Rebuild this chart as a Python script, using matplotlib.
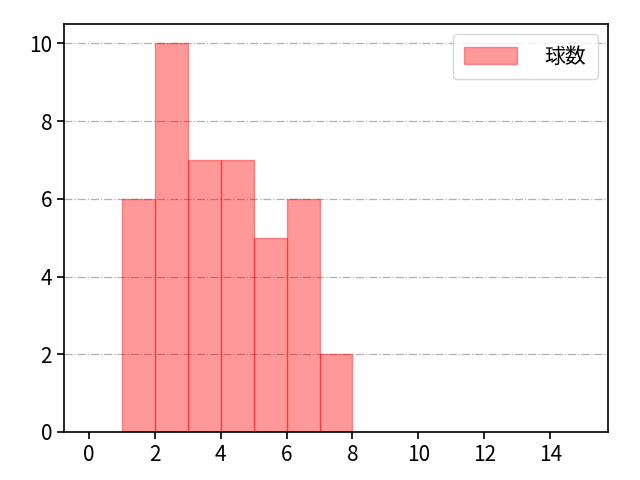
import numpy as np
import matplotlib
matplotlib.use('Agg')
from matplotlib import pyplot as plt

plt.rcParams['font.family'] = ['Noto Sans CJK JP', 'DejaVu Sans']

# bin edges (left side) and counts
bin_left = [1, 2, 3, 4, 5, 6, 7]
counts = [6, 10, 7, 7, 5, 6, 2]
label = '球数'

fig, ax = plt.subplots(figsize=(6.4, 4.8), dpi=100)
fig.subplots_adjust(left=0.1, right=0.95, top=0.95, bottom=0.1)

ax.bar(bin_left, counts, width=1, align='edge', color='red', alpha=0.4,
       edgecolor='red', linewidth=1, label=label)
ax.set_xlim(-0.75, 15.75)
ax.set_ylim(0, 10.5)
ax.set_xticks(np.arange(0, 15, 2))
ax.set_yticks(np.arange(0, 11, 2))
ax.tick_params(labelsize=15, width=1.2, length=5)
ax.grid(axis='y', linestyle='-.', color='#b0b0b0', linewidth=0.9)
ax.set_axisbelow(True)
for s in ax.spines.values():
    s.set_linewidth(1.2)
ax.legend(loc='upper right', fontsize=15, handlelength=2.55, handleheight=0.9,
          handletextpad=1.3, borderpad=0.55)

plt.savefig('out.png')
